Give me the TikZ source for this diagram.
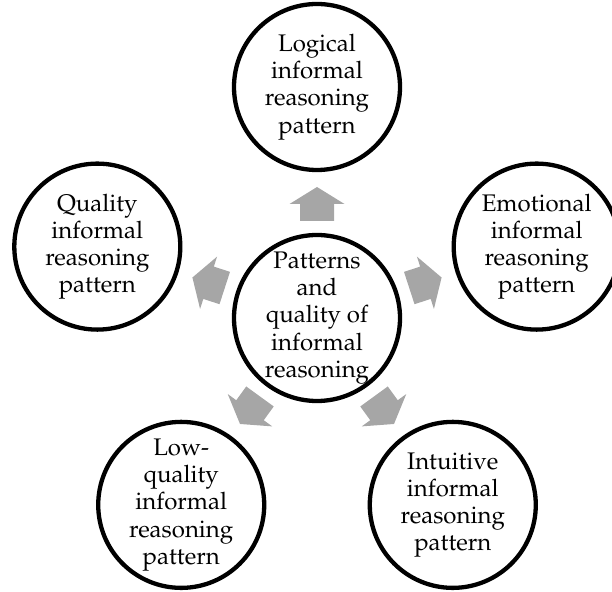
\documentclass[tikz,border=0pt]{standalone}
\usepackage[T1]{fontenc}
\usepackage{mathpazo}
\usetikzlibrary{calc}

\definecolor{arrowgray}{RGB}{166,166,166}

\begin{document}
\begin{tikzpicture}[
        bubble/.style={circle, draw, line width=4.3pt, fill=white, minimum size=166pt, inner sep=0pt},
        caption/.style={align=center, inner sep=0pt, font=\fontsize{24}{27.2}\selectfont}
    ]
            \useasboundingbox (0,0) rectangle (612pt,591pt);

            \node[bubble] (core) at (317pt,273pt) {};

            \node[bubble] (logical) at ($(core)+(90:231pt)$) {};
            \node[bubble] (emotional) at ($(core)+(18:231pt)$) {};
            \node[bubble] (intuitive) at ($(core)+(-54:231pt)$) {};
            \node[bubble] (lowquality) at ($(core)+(-126:231pt)$) {};
            \node[bubble] (quality) at ($(core)+(162:231pt)$) {};

            % block arrows between the middle and the outer circles
            \foreach \ang/\target in {90/logical, 18/emotional, -54/intuitive, -126/lowquality, 162/quality} {
                \fill[arrowgray, shift={($(core)!114pt!(\target)$)}, rotate=\ang-90]
                    (-17pt,-17pt) -- (17pt,-17pt) -- (17pt,0pt) -- (27.5pt,0pt)
                    -- (0pt,17pt) -- (-27.5pt,0pt) -- (-17pt,0pt) -- cycle;
            }

            \node[caption] at (core) {Patterns\\and\\quality of\\informal\\reasoning};

            \node[caption] at (logical) {Logical\\informal\\reasoning\\pattern};

            \node[caption] at (emotional) {Emotional\\informal\\reasoning\\pattern};

            \node[caption] at (intuitive) {Intuitive\\informal\\reasoning\\pattern};

            \node[caption] at (lowquality) {Low-\\quality\\informal\\reasoning\\pattern};

            \node[caption] at (quality) {Quality\\informal\\reasoning\\pattern};
\end{tikzpicture}
\end{document}
